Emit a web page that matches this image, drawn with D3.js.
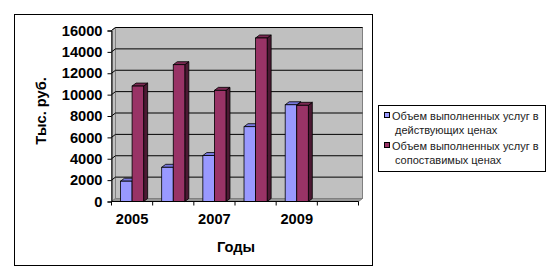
<!DOCTYPE html>
<html>
<head>
<meta charset="utf-8">
<script src="https://cdn.jsdelivr.net/npm/d3@7"></script>
<style>
  body { margin: 0; background: #fff; }
  svg { display: block; font-family: "Liberation Sans", Arial, sans-serif; }
</style>
</head>
<body>
<div id="chart"></div>
<script>
// data
const years = ["2005", "2006", "2007", "2008", "2009", "2010"];
const currentPrices = [1900, 3200, 4300, 7000, 9050, null];
const comparablePrices = [10800, 12800, 10400, 15300, 9000, null];
const yTicks = [0, 2000, 4000, 6000, 8000, 10000, 12000, 14000, 16000];
const seriesNames = [
  ["Объем выполненных услуг в", "действующих ценах"],
  ["Объем выполненных услуг в", "сопоставимых ценах"]
];

const colors = {
  wall: "#c0c0c0",
  wallEdge: "#808080",
  floor: "#969696",
  front: ["#9999ff", "#993366"],
  top: ["#7777dd", "#7a2952"],
  side: ["#4c4c99", "#4c1933"]
};

const W = 556, H = 280;
const depth = { dx: 4, dy: -3 };

const svg = d3.select("#chart")
  .append("svg")
  .attr("width", W)
  .attr("height", H);

// outer chart border
svg.append("rect")
  .attr("x", 14.5).attr("y", 14.5)
  .attr("width", 358).attr("height", 251)
  .attr("fill", "#fff")
  .attr("stroke", "#000");

const x = d3.scaleBand()
  .domain(years)
  .range([111.5, 358.5])
  .padding(0);

const y = d3.scaleLinear()
  .domain([0, 16000])
  .range([201.5, 30.5]);

const xs = d3.scaleBand()
  .domain([0, 1])
  .range([0, x.bandwidth()])
  .paddingInner(0)
  .paddingOuter(0.78);

const x0 = x.range()[0], x1 = x.range()[1];
const yBot = y(0), yTop = y(16000);

// back wall
svg.append("rect")
  .attr("x", x0 + depth.dx).attr("y", yTop + depth.dy)
  .attr("width", x1 - x0).attr("height", yBot - yTop)
  .attr("fill", colors.wall)
  .attr("stroke", colors.wallEdge);

// left side wall
svg.append("path")
  .attr("d", `M${x0},${yBot}L${x0},${yTop}L${x0 + depth.dx},${yTop + depth.dy}L${x0 + depth.dx},${yBot + depth.dy}Z`)
  .attr("fill", colors.wall)
  .attr("stroke", colors.wallEdge);

// floor
svg.append("path")
  .attr("d", `M${x0},${yBot}L${x1},${yBot}L${x1 + depth.dx},${yBot + depth.dy}L${x0 + depth.dx},${yBot + depth.dy}Z`)
  .attr("fill", colors.floor)
  .attr("stroke", colors.wallEdge);

// gridlines on back wall + left wall
svg.selectAll(".grid")
  .data(yTicks.filter(d => d > 0))
  .enter()
  .append("path")
  .attr("class", "grid")
  .attr("d", d => `M${x0},${y(d)}L${x0 + depth.dx},${y(d) + depth.dy}L${x1 + depth.dx},${y(d) + depth.dy}`)
  .attr("fill", "none")
  .attr("stroke", "#000");

// bars
const bars = [];
years.forEach((yr, i) => {
  [currentPrices[i], comparablePrices[i]].forEach((v, s) => {
    if (v != null) bars.push({ year: yr, s: s, v: v });
  });
});

const barG = svg.selectAll(".bar")
  .data(bars)
  .enter()
  .append("g")
  .attr("class", "bar");

barG.each(function(d) {
  const g = d3.select(this);
  const bx = x(d.year) + xs(d.s);
  const bw = xs.bandwidth();
  const ty = y(d.v);
  const by = y(0);

  g.append("path")
    .attr("d", `M${bx + bw},${by}L${bx + bw},${ty}L${bx + bw + depth.dx},${ty + depth.dy}L${bx + bw + depth.dx},${by + depth.dy}Z`)
    .attr("fill", colors.side[d.s])
    .attr("stroke", "#000")
    .attr("stroke-width", 0.8);

  g.append("path")
    .attr("d", `M${bx},${ty}L${bx + bw},${ty}L${bx + bw + depth.dx},${ty + depth.dy}L${bx + depth.dx},${ty + depth.dy}Z`)
    .attr("fill", colors.top[d.s])
    .attr("stroke", "#000")
    .attr("stroke-width", 0.8);

  g.append("rect")
    .attr("x", bx).attr("y", ty)
    .attr("width", bw).attr("height", by - ty)
    .attr("fill", colors.front[d.s])
    .attr("stroke", "#000")
    .attr("stroke-width", 0.8);
});

// value axis
const yAxis = svg.append("g")
  .attr("transform", `translate(${x0},0)`)
  .call(d3.axisLeft(y).tickValues(yTicks).tickSize(4).tickPadding(5).tickFormat(d3.format("d")));
yAxis.select(".domain").attr("stroke", "#000");
yAxis.selectAll("text")
  .attr("fill", "#000")
  .style("font-size", "11pt")
  .style("font-weight", "bold");

// category axis
svg.append("line")
  .attr("x1", x0).attr("x2", x1)
  .attr("y1", yBot).attr("y2", yBot)
  .attr("stroke", "#000");

svg.selectAll(".xtick")
  .data(years.concat(["end"]))
  .enter()
  .append("line")
  .attr("class", "xtick")
  .attr("x1", d => d === "end" ? x1 : x(d))
  .attr("x2", d => d === "end" ? x1 : x(d))
  .attr("y1", yBot).attr("y2", yBot + 4)
  .attr("stroke", "#000");

svg.selectAll(".xlabel")
  .data(years.filter((d, i) => i % 2 === 0 && i < 5))
  .enter()
  .append("text")
  .attr("class", "xlabel")
  .attr("x", d => x(d) + x.bandwidth() / 2)
  .attr("y", 224)
  .attr("text-anchor", "middle")
  .style("font-size", "11pt")
  .style("font-weight", "bold")
  .text(d => d);

// axis titles
svg.append("text")
  .attr("x", (x0 + x1) / 2 + 1)
  .attr("y", 252)
  .attr("text-anchor", "middle")
  .style("font-size", "11pt")
  .style("font-weight", "bold")
  .text("Годы");

svg.append("text")
  .attr("transform", "translate(46,111) rotate(-90)")
  .attr("text-anchor", "middle")
  .style("font-size", "11pt")
  .style("font-weight", "bold")
  .text("Тыс. руб.");

// legend
const legend = svg.append("g");
legend.append("rect")
  .attr("x", 378.5).attr("y", 105.5)
  .attr("width", 167).attr("height", 66)
  .attr("fill", "#fff")
  .attr("stroke", "#000");

const legendRows = [120, 150];
seriesNames.forEach((lines, s) => {
  legend.append("rect")
    .attr("x", 384.5).attr("y", legendRows[s] - 7.5)
    .attr("width", 5).attr("height", 5)
    .attr("fill", colors.front[s])
    .attr("stroke", "#000");
  lines.forEach((t, j) => {
    legend.append("text")
      .attr("x", j === 0 ? 392 : 395)
      .attr("y", legendRows[s] + j * 14)
      .style("font-size", "11px")
      .style("fill", "#222")
      .text(t);
  });
});
</script>
</body>
</html>
